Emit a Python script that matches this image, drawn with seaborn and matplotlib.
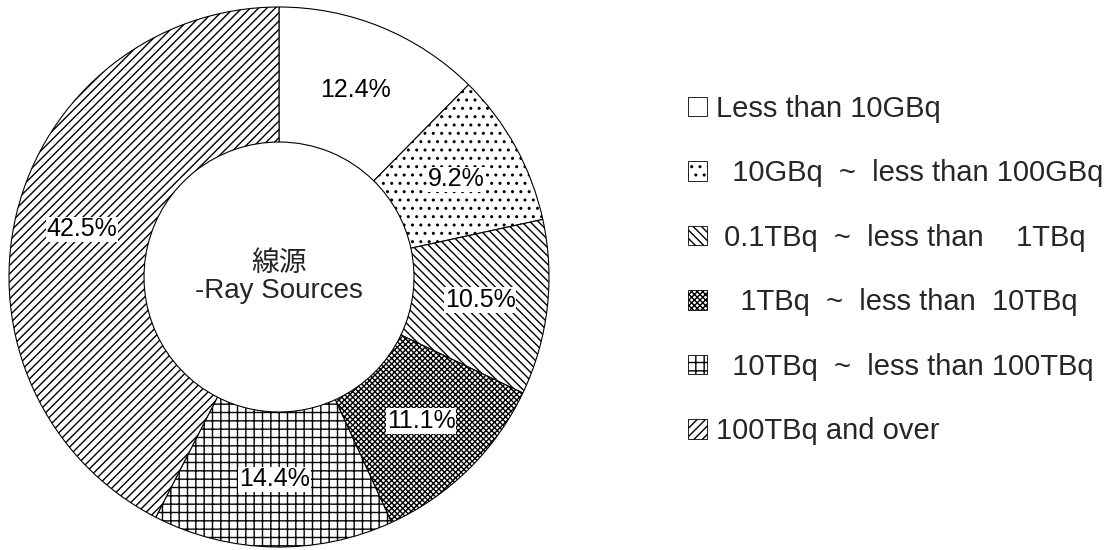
import matplotlib
matplotlib.use("Agg")
import matplotlib.pyplot as plt
import seaborn as sns
from matplotlib.patches import Patch

# --- data ---
categories = [
    "Less than 10GBq",
    "  10GBq  ~  less than 100GBq",
    " 0.1TBq  ~  less than    1TBq",
    "   1TBq  ~  less than  10TBq",
    "  10TBq  ~  less than 100TBq",
    "100TBq and over",
]
shares = [12.4, 9.2, 10.5, 11.1, 14.4, 42.5]
hatches = ["", "..", "\\\\\\\\", "xxxxxx", "++", "////"]
center_title = "線源\n-Ray Sources"

sns.set_theme(style="white")
plt.rcParams["font.family"] = ["Liberation Sans", "Noto Sans CJK JP"]
plt.rcParams["hatch.linewidth"] = 1.0

W, H = 1118, 550
fig = plt.figure(figsize=(W / 100, H / 100), dpi=100)
cx, cy, R = 279, 277, 270
ax = fig.add_axes([(cx - R) / W, (H - cy - R) / H, 2 * R / W, 2 * R / H])

wedges, texts, autotexts = ax.pie(
    shares,
    startangle=90,
    counterclock=False,
    autopct="%.1f%%",
    pctdistance=0.75,
    colors=["white"] * len(shares),
    wedgeprops=dict(width=0.5, edgecolor="black", linewidth=0.8),
    textprops=dict(fontsize=18, color="black"),
)
for w, h in zip(wedges, hatches):
    w.set_hatch(h)
for t in autotexts:
    t.set_bbox(dict(facecolor="white", edgecolor="none", pad=0.6))

ax.set_xlim(-1, 1)
ax.set_ylim(-1, 1)
ax.text(0, 0, center_title, ha="center", va="center", fontsize=20, linespacing=1.05)

# 범례
handles = [
    Patch(facecolor="white", edgecolor="black", hatch=h, linewidth=0.6)
    for h in hatches
]
fig.legend(
    handles,
    categories,
    loc="upper left",
    bbox_to_anchor=(688 / W, 1 - 95 / H),
    frameon=False,
    fontsize=21,
    handlelength=0.65,
    handleheight=0.65,
    handletextpad=0.3,
    labelspacing=1.25,
    borderpad=0,
    borderaxespad=0,
)

fig.savefig("out.png", dpi=100)
